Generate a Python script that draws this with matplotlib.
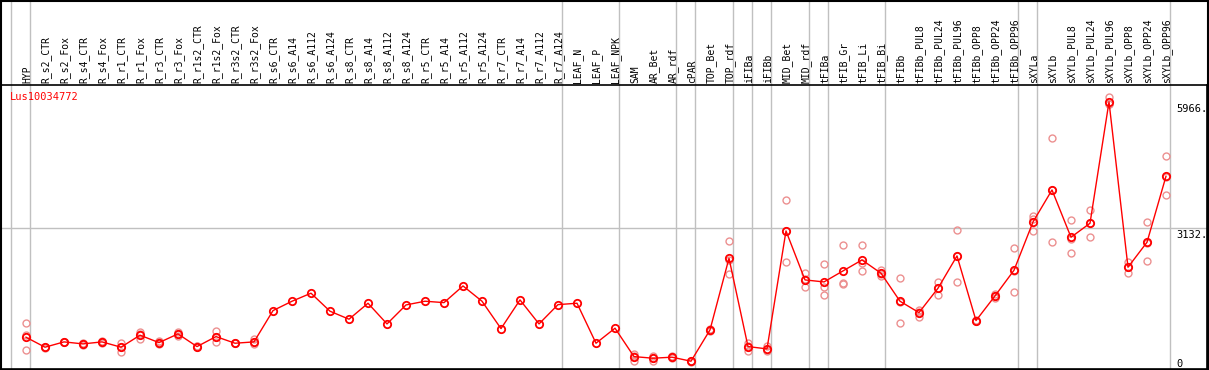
import matplotlib
matplotlib.use('Agg')
import matplotlib.pyplot as plt

title = 'Lus10034772'

samples = ['HYP',
           'R_s2_CTR', 'R_s2_Fox', 'R_s4_CTR', 'R_s4_Fox', 'R_r1_CTR', 'R_r1_Fox',
           'R_r3_CTR', 'R_r3_Fox', 'R_r1s2_CTR', 'R_r1s2_Fox', 'R_r3s2_CTR', 'R_r3s2_Fox',
           'R_s6_CTR', 'R_s6_A14', 'R_s6_A112', 'R_s6_A124',
           'R_s8_CTR', 'R_s8_A14', 'R_s8_A112', 'R_s8_A124',
           'R_r5_CTR', 'R_r5_A14', 'R_r5_A112', 'R_r5_A124',
           'R_r7_CTR', 'R_r7_A14', 'R_r7_A112', 'R_r7_A124',
           'LEAF_N', 'LEAF_P', 'LEAF_NPK', 'SAM', 'AR_Bet', 'AR_rdf', 'cPAR',
           'TOP_Bet', 'TOP_rdf', 'iFIBa', 'iFIBb', 'MID_Bet', 'MID_rdf', 'tFIBa',
           'tFIB_Gr', 'tFIB_Li', 'tFIB_Bi', 'tFIBb',
           'tFIBb_PUL8', 'tFIBb_PUL24', 'tFIBb_PUL96', 'tFIBb_OPP8', 'tFIBb_OPP24', 'tFIBb_OPP96',
           'sXYLa', 'sXYLb',
           'sXYLb_PUL8', 'sXYLb_PUL24', 'sXYLb_PUL96', 'sXYLb_OPP8', 'sXYLb_OPP24', 'sXYLb_OPP96']

# mean expression per sample
means = [688, 464, 583, 538, 583, 464, 733, 567, 762, 478, 702, 553, 583,
         1285, 1495, 1675, 1271, 1092, 1450, 986, 1412, 1495, 1464, 1838, 1495,
         881, 1525, 986, 1419, 1450, 553, 890, 253, 217, 240, 150, 852, 2459,
         478, 426, 3072, 1973, 1928, 2175, 2421, 2123, 1495, 1240, 1787, 2511,
         1061, 1614, 2190, 3273, 3991, 2930, 3244, 5966, 2258, 2818, 4298]

# replicate values (empty where they sit under the mean marker)
reps = [[1002, 740, 404], [450, 475, 468], [575, 590, 585], [520, 560, 535],
        [560, 610, 580], [567, 359, 470], [807, 643, 750], [600, 530, 570],
        [800, 720, 765], [480, 470, 485], [836, 583, 690], [550, 560, 548],
        [640, 530, 580],
        [], [], [], [], [], [], [], [], [], [], [], [], [], [], [], [], [], [], [],
        [314, 164, 260], [269, 150, 230], [260, 225, 240], [150, 140, 160],
        [880, 830, 850], [2847, 2100, 2430], [553, 388, 490], [500, 388, 395],
        [3767, 2370, 3080], [2123, 1809, 1990], [2332, 1809, 1630],
        [2751, 1912, 1876], [2751, 2168, 2350], [2190, 2070, 2110],
        [2018, 1002, 1470], [1300, 1150, 1260], [1928, 1630, 1800],
        [3087, 1928, 2520], [1061, 1050, 1070], [1660, 1570, 1610],
        [2683, 1704, 2180], [3408, 3072, 3340], [5150, 2818, 4000],
        [3318, 2578, 2900], [3542, 2937, 3250], [6069, 5919, 5910],
        [2383, 2123, 2270], [3273, 2392, 2790], [4746, 3872, 4280]]

# group separators (after these sample indices)
seps = [-1, 0, 28, 31, 34, 35, 37, 38, 39, 41, 42, 45, 52, 53, 60]

ytick_vals = [5966, 3132, 0]
ytick_labels = ['5966.', '3132.', '0']
grid_val = 3132

W, H = 1209, 370
fig = plt.figure(figsize=(W / 100, H / 100), dpi=100)

# pixel -> index mapping: x = 26 + 19 * i
x0 = (1 - 26) / 19
x1 = (1207 - 26) / 19
sep_off = 4 / 19

mono = 'DejaVu Sans Mono'
gray = '#c0c0c0'

# header with labels
hx = fig.add_axes([1 / W, 1 - 85 / H, 1206 / W, 85 / H])
hx.set_xlim(x0, x1)
hx.set_ylim(0, 1)
hx.axis('off')
for s in seps:
    hx.axvline(s + sep_off, color=gray, lw=1)
for i, lab in enumerate(samples):
    hx.text(i + 0.05, 0.025, lab, rotation=90, ha='center', va='bottom',
            fontsize=7, family=mono, color='black')

# plot area
ax = fig.add_axes([1 / W, 1 / H, 1206 / W, 284 / H])
ax.set_xlim(x0, x1)
ax.set_ylim(-25, 6345)
for sp in ax.spines.values():
    sp.set_color('black')
    sp.set_linewidth(1.2)
ax.set_xticks([])
ax.set_yticks([])
for s in seps:
    ax.axvline(s + sep_off, color=gray, lw=1, zorder=1)
ax.axhline(grid_val, color=gray, lw=1, zorder=1)

xs = list(range(len(samples)))
for i, r in enumerate(reps):
    if r:
        ax.plot([i] * len(r), r, linestyle='none', marker='o', markersize=5,
                markerfacecolor='none', markeredgecolor='#ec9090',
                markeredgewidth=1.0, zorder=2)
ax.plot(xs, means, color='red', lw=1, marker='o', markersize=5.3,
        markerfacecolor='none', markeredgecolor='red', markeredgewidth=1.3, zorder=3)

for v, t in zip(ytick_vals, ytick_labels):
    yy = max(v, 250)
    ax.text((1176 - 26) / 19, yy - 160, t, ha='left', va='center',
            fontsize=7.5, family=mono, color='black')

ax.text((10 - 26) / 19, 6345 - 270, title, ha='left', va='center',
        fontsize=7.5, family=mono, color='red')

# outer frame
fig.patches.append(plt.Rectangle((0.5 / W, 0.5 / H), 1207 / W, 1 - 1 / H,
                                 transform=fig.transFigure, fill=False,
                                 edgecolor='black', lw=1.5))

fig.savefig('out.png', dpi=100)
